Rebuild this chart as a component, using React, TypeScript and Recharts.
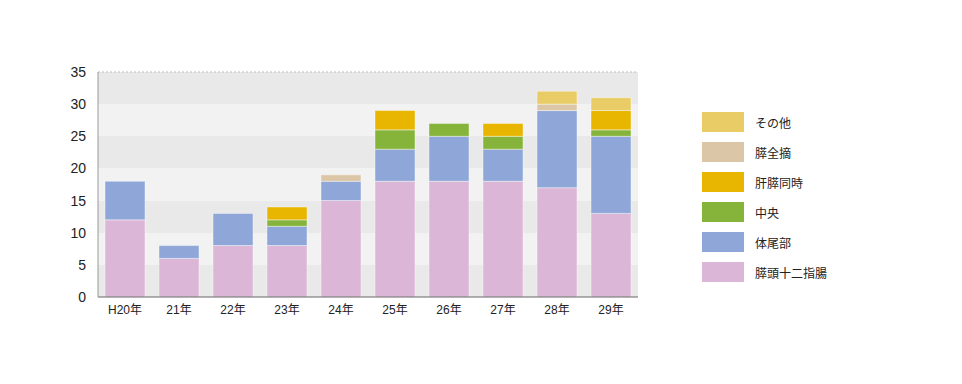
import React from 'react';
import { BarChart, Bar, XAxis, YAxis, CartesianGrid, ReferenceLine } from 'recharts';

const years = ['H20年', '21年', '22年', '23年', '24年', '25年', '26年', '27年', '28年', '29年'];
const pancHead = [12, 6, 8, 8, 15, 18, 18, 18, 17, 13];
const bodyTail = [6, 2, 5, 3, 3, 5, 7, 5, 12, 12];
const central = [0, 0, 0, 1, 0, 3, 2, 2, 0, 1];
const liverPanc = [0, 0, 0, 2, 0, 3, 0, 2, 0, 3];
const totalPanc = [0, 0, 0, 0, 1, 0, 0, 0, 1, 0];
const others = [0, 0, 0, 0, 0, 0, 0, 0, 2, 2];
const yTicks = [0, 5, 10, 15, 20, 25, 30, 35];

const series = [
  { key: 'pancHead', name: '膵頭十二指腸', color: '#dcb6d6', values: pancHead },
  { key: 'bodyTail', name: '体尾部', color: '#8fa7d8', values: bodyTail },
  { key: 'central', name: '中央', color: '#86b43a', values: central },
  { key: 'liverPanc', name: '肝膵同時', color: '#e8b500', values: liverPanc },
  { key: 'totalPanc', name: '膵全摘', color: '#dcc6a8', values: totalPanc },
  { key: 'others', name: 'その他', color: '#e9cc66', values: others },
];

const data = years.map((year, i) => {
  const row: any = { year };
  series.forEach(s => { row[s.key] = s.values[i]; });
  return row;
});

const font = '"Helvetica Neue", Arial, "Noto Sans CJK JP", sans-serif';

export default function App() {
  return (
    <div style={{ position: 'absolute', left: 0, top: 0, width: 962, height: 384, background: '#fff', fontFamily: font }}>
      <BarChart width={962} height={384} data={data} margin={{ top: 72, right: 324, bottom: 57, left: 0 }} barCategoryGap={7}>
        <CartesianGrid vertical={false} stroke="none" horizontalFill={['#e9e9e9', '#f2f2f2']} fillOpacity={1} />
        <ReferenceLine y={35} stroke="#bbb" strokeDasharray="2 2" />
        <XAxis
          dataKey="year"
          tickLine={false}
          axisLine={{ stroke: '#666' }}
          tick={{ fill: '#222', fontSize: 12, fontFamily: font }}
          tickMargin={2}
        />
        <YAxis
          width={98}
          domain={[0, 35]}
          ticks={yTicks}
          tickLine={false}
          axisLine={{ stroke: '#999' }}
          tick={{ fill: '#222', fontSize: 14, fontFamily: font }}
          tickMargin={6}
        />
        {series.map(s => (
          <Bar key={s.key} dataKey={s.key} name={s.name} stackId="a" fill={s.color} stroke="rgba(255,255,255,0.4)" strokeWidth={1} isAnimationActive={false} />
        ))}
      </BarChart>
      <div style={{ position: 'absolute', left: 702, top: 112 }}>
        {[...series].reverse().map(s => (
          <div key={s.key} style={{ display: 'flex', alignItems: 'center', height: 30 }}>
            <div style={{ width: 42, height: 20, background: s.color, marginBottom: 10 }} />
            <span style={{ marginLeft: 11, fontSize: 12, color: '#222', marginBottom: 10 }}>{s.name}</span>
          </div>
        ))}
      </div>
    </div>
  );
}
